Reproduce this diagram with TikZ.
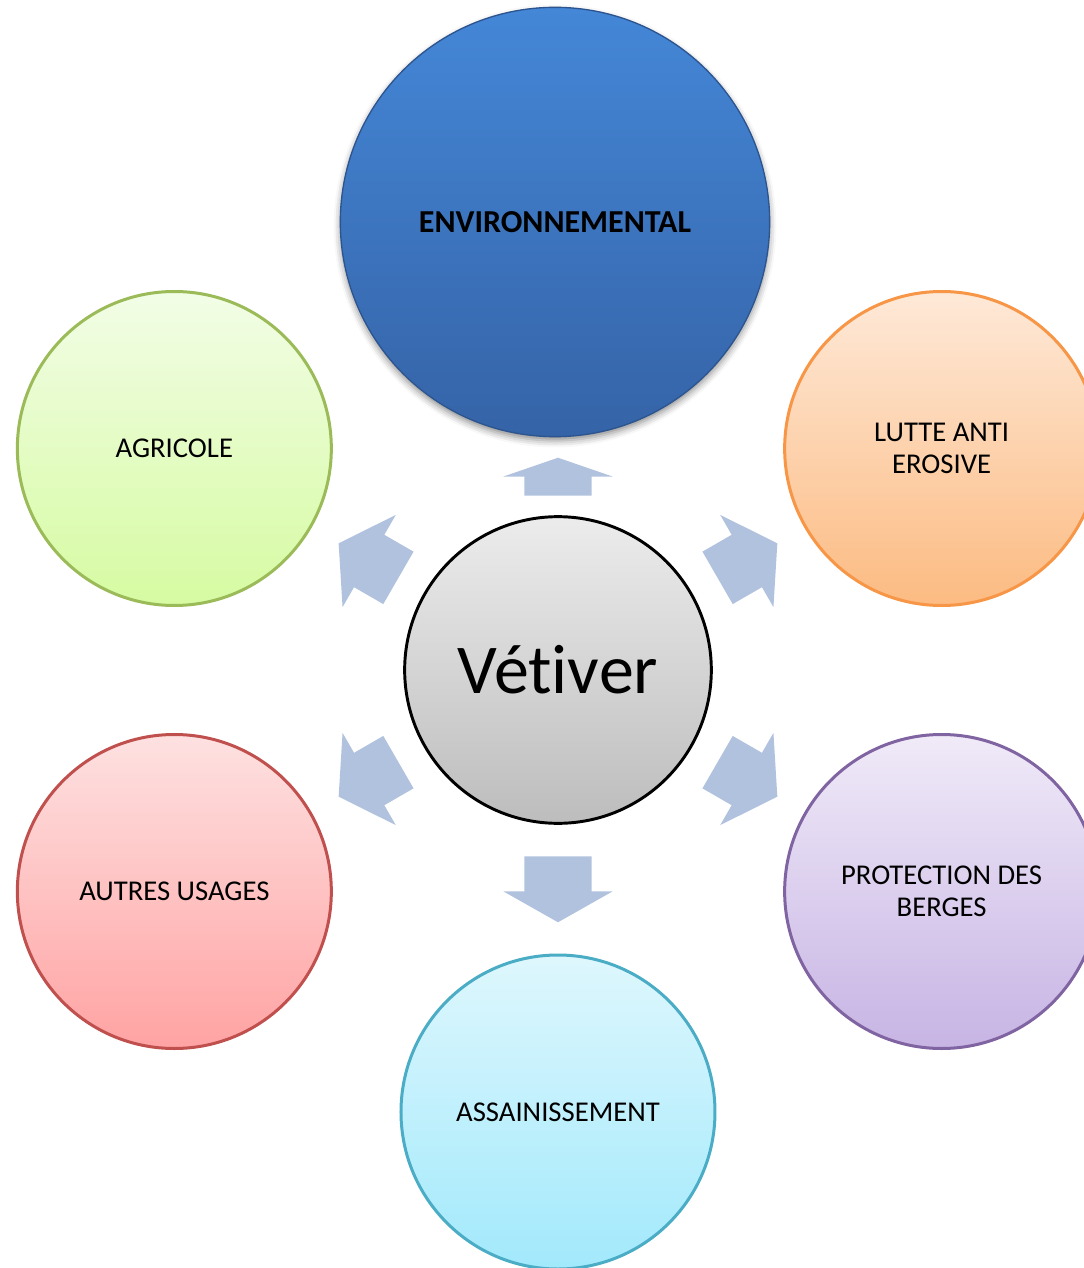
\documentclass[tikz,border=0pt]{standalone}
\usepackage{fontspec}
\setmainfont{Carlito}[Ligatures=NoCommon]
\usetikzlibrary{shapes.arrows}
\usetikzlibrary{shadows.blur}
\definecolor{arrowblue}{HTML}{B0C2DD}
\definecolor{envtop}{HTML}{4487D7}
\definecolor{envbot}{HTML}{3563A7}
\definecolor{envedge}{HTML}{2C5590}
\definecolor{agrline}{HTML}{9BBB59}
\definecolor{agrtop}{HTML}{F2FDE6}
\definecolor{agrbot}{HTML}{D6FBA2}
\definecolor{lutline}{HTML}{F79646}
\definecolor{luttop}{HTML}{FEE9D8}
\definecolor{lutbot}{HTML}{FCBB82}
\definecolor{autline}{HTML}{C0504D}
\definecolor{auttop}{HTML}{FEE1E1}
\definecolor{autbot}{HTML}{FFA3A3}
\definecolor{proline}{HTML}{8064A2}
\definecolor{protop}{HTML}{F0EAF8}
\definecolor{probot}{HTML}{C7B4E4}
\definecolor{assline}{HTML}{4BACC6}
\definecolor{asstop}{HTML}{DEF7FD}
\definecolor{assbot}{HTML}{A2E9FC}
\tikzset{
    theme/.style={
        circle,
        inner sep=0pt,
        minimum size=235.5pt,
        line width=2.25pt,
        align=center,
        font=\fontsize{21.5}{24}\selectfont},
    usage/.style n args={3}{
        theme,
        draw=#1,
        top color=#2,
        bottom color=#3},
    flow/.style={
        single arrow,
        draw=none,
        fill=arrowblue,
        inner xsep=0pt,
        single arrow head indent=0pt,
        anchor=tail}}

\begin{document}
\begin{tikzpicture}[x=0.75pt,y=0.75pt]
        \useasboundingbox (-558,-598) rectangle (526,670);
        \clip (-558,-598) rectangle (526,670);

        \node[circle,minimum size=230pt,draw=black,line width=2.2pt,
            top color=gray!15,bottom color=gray!52,
            font=\fontsize{52.5}{60}\selectfont] (vetiver) at (0,0) {Vét\kern0pt iver};

        \node[circle,minimum size=322pt,draw=envedge,line width=1pt,
            top color=envtop,bottom color=envbot,
            blur shadow={shadow xshift=0pt,shadow yshift=-3pt,shadow blur radius=5pt,shadow opacity=45},
            font=\bfseries\fontsize{24}{28}\selectfont] (env) at (-3,448) {ENVIRONNEMENTAL};
        \node[usage={agrline}{agrtop}{agrbot}] (agri) at (150:443) {AGRICOLE};
        \node[usage={lutline}{luttop}{lutbot}] (lutte) at (30:443) {LUTTE ANTI\\EROSIVE};
        \node[usage={autline}{auttop}{autbot}] (autres) at (210:443) {AUTRES USAGES};
        \node[usage={proline}{protop}{probot}] (prot) at (330:443) {PROTECTION DES\\BERGES};
        \node[usage={assline}{asstop}{assbot}] (assain) at (0,-442) {ASSAINISSEMENT};

        % arrows out of the centre
        \foreach \ang/\name in {150/agri,30/lutte,210/autres,330/prot}
            \node[flow,rotate=\ang,minimum height=51.75pt,inner ysep=22.5pt,
                single arrow head extend=17.25pt,single arrow tip angle=113]
                (to\name) at (\ang:184) {};
        \node[flow,rotate=90,minimum height=28.5pt,inner ysep=25.1pt,
            single arrow head extend=15.75pt,single arrow tip angle=142] (toenv) at (0,174) {};
        \node[flow,rotate=270,minimum height=49.5pt,inner ysep=25.1pt,
            single arrow head extend=15.75pt,single arrow tip angle=121] (toassain) at (0,-186) {};
\end{tikzpicture}
\end{document}
